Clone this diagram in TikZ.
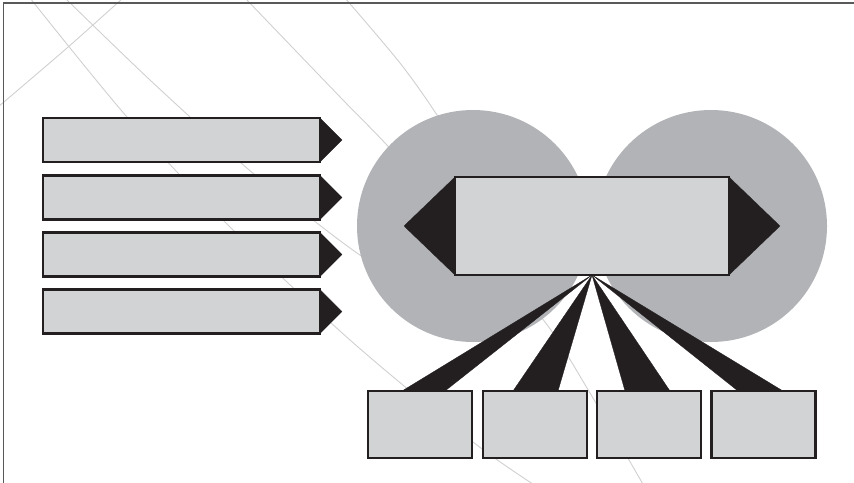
\documentclass[tikz,border=0pt]{standalone}
\usetikzlibrary{positioning}
\definecolor{darkc}{RGB}{35,31,32}
\definecolor{fillc}{RGB}{209,211,212}
\definecolor{circc}{RGB}{177,179,182}
\definecolor{framec}{RGB}{88,89,91}
\definecolor{bgline}{RGB}{208,208,208}
\tikzset{
  boxbase/.style={draw=darkc, fill=fillc, line width=2.4pt, inner sep=0pt, outer sep=0pt, rectangle},
  barbox/.style={boxbase, minimum width=277pt, minimum height=44pt},
  centerbox/.style={boxbase, minimum width=274pt, minimum height=98pt},
  smallbox/.style={boxbase, minimum width=104pt, minimum height=67pt},
  tipfill/.style={fill=darkc, draw=darkc, line width=0.3pt, line join=miter},
  bgcurve/.style={draw=bgline, line width=0.9pt},
  disc/.style={circle, fill=circc, minimum size=232pt, inner sep=0pt, outer sep=0pt},
  framestroke/.style={draw=framec, line width=1.6pt}
}
\begin{document}
\begin{tikzpicture}[x=1pt,y=-1pt]
\useasboundingbox (0,0) rectangle (854,482);
% background curves
\draw[bgcurve] plot[smooth] coordinates {(30,-2) (127,117) (229,226) (350,340) (473,442) (536,486)};
\draw[bgcurve] plot[smooth] coordinates {(65,-2) (150,80) (248,169) (313,220) (357,253) (420,295)};
\draw[bgcurve] plot[smooth] coordinates {(245,-2) (343,100) (385,143) (470,235) (545,322) (590,393) (644,486)};
\draw[bgcurve] plot[smooth] coordinates {(345,-2) (400,63) (437,115) (470,170)};
\draw[bgcurve] plot[smooth] coordinates {(-2,107) (67,48) (123,-2)};
% frame
\coordinate (fa) at (3.5,3);
\coordinate (fb) at (856,3);
\coordinate (fc) at (3.5,484);
\draw[framestroke] (fb) -- (fa) -- (fc);
% circles
\node[disc] (lc) at (473,226) {};
\node[disc] (rc) at (711,226) {};
% center element
\node[centerbox] (c) at (592,226) {};
\fill[tipfill] (c.north west) -- ([xshift=-51pt]c.west) -- (c.south west) -- cycle;
\fill[tipfill] (c.north east) -- ([xshift=51pt]c.east) -- (c.south east) -- cycle;
% bottom boxes
\node[smallbox] (s1) at (420,424.5) {};
\node[smallbox] (s2) at (535,424.5) {};
\node[smallbox] (s3) at (649,424.5) {};
\node[smallbox] (s4) at (763.5,424.5) {};
% wedges
\fill[tipfill] (c.south) -- ([xshift=-18pt]s1.north) -- ([xshift=25pt]s1.north) -- cycle;
\fill[tipfill] (c.south) -- ([xshift=-22pt]s2.north) -- ([xshift=23pt]s2.north) -- cycle;
\fill[tipfill] (c.south) -- ([xshift=-24pt]s3.north) -- ([xshift=21pt]s3.north) -- cycle;
\fill[tipfill] (c.south) -- ([xshift=-25.5pt]s4.north) -- ([xshift=19.5pt]s4.north) -- cycle;
% redraw center and boxes on top
\node[centerbox] at (c) {};
\foreach \s in {s1,s2,s3,s4} {\node[smallbox] at (\s) {};}
% left bars
\node[barbox] (b1) at (181.5,140) {};
\node[barbox] (b2) at (181.5,197.5) {};
\node[barbox] (b3) at (181.5,254.5) {};
\node[barbox] (b4) at (181.5,311.5) {};
\foreach \b in {b1,b2,b3,b4} {
  \fill[tipfill] (\b.north east) -- ([xshift=22pt]\b.east) -- (\b.south east) -- cycle;
}
\end{tikzpicture}
\end{document}
